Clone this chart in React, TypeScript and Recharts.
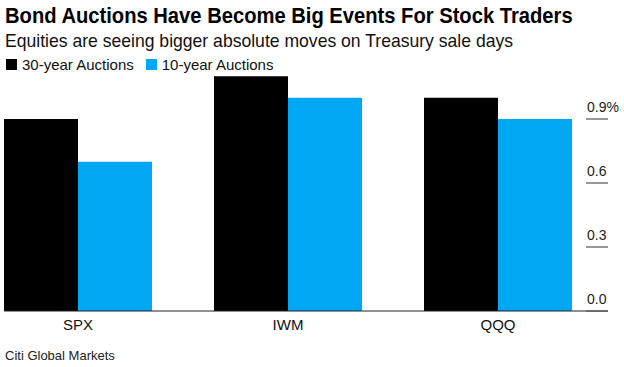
import { BarChart, Bar, XAxis, YAxis, Legend } from 'recharts';

// values (percent moves)
const categories = ['SPX', 'IWM', 'QQQ'];
const thirtyYear = [0.9, 1.1, 1.0];
const tenYear = [0.7, 1.0, 0.9];
const yTicks = [0, 0.3, 0.6, 0.9];

const seriesConfig = [
    { key: 'thirty', label: '30-year Auctions', color: '#000000' },
    { key: 'ten', label: '10-year Auctions', color: '#00a8f3' },
];

const FONT = '"Liberation Sans", Arial, sans-serif';

const data = categories.map((name, i) => ({ name, thirty: thirtyYear[i], ten: tenYear[i] }));

const renderRightTick = (props: any) => {
    const { x, y, payload } = props;
    const label = payload.value === 0.9 ? '0.9%' : payload.value.toFixed(1);
    return (
        <g key={'t' + payload.value}>
            <line x1={x - 22} x2={x} y1={y} y2={y} stroke="#555" strokeWidth={1.2} />
            <text x={x - 21} y={y - 7} fontSize={14} fill="#222" fontFamily={FONT} textAnchor="start">
                {label}
            </text>
        </g>
    );
};

const LegendContent = () => (
    <div style={{ display: 'flex', alignItems: 'center', fontFamily: FONT, fontSize: 15, color: '#111' }}>
        {seriesConfig.map((item) => (
            <div key={item.key} style={{ display: 'flex', alignItems: 'center', marginRight: 12 }}>
                <span style={{ width: 11, height: 11, background: item.color, display: 'inline-block', marginRight: 5 }} />
                {item.label}
            </div>
        ))}
    </div>
);

export default function App() {
    return (
        <div style={{ position: 'absolute', top: 0, left: 0, width: 624, height: 367, background: '#fff', fontFamily: FONT }}>
            <div style={{ position: 'absolute', top: 3, left: 5, fontSize: 22, fontWeight: 'bold', color: '#000', whiteSpace: 'nowrap', transform: 'scaleX(0.917)', transformOrigin: 'left' }}>
                Bond Auctions Have Become Big Events For Stock Traders
            </div>
            <div style={{ position: 'absolute', top: 30, left: 5, fontSize: 19, color: '#111', whiteSpace: 'nowrap', transform: 'scaleX(0.925)', transformOrigin: 'left' }}>
                Equities are seeing bigger absolute moves on Treasury sale days
            </div>
            <BarChart
                width={624}
                height={367}
                data={data}
                margin={{ top: 55, right: 15, left: 4, bottom: 26 }}
                barCategoryGap={31}
                barGap={0}
            >
                <XAxis
                    dataKey="name"
                    padding={{ left: -31, right: 5 }}
                    axisLine={{ stroke: '#222', strokeWidth: 1 }}
                    tickLine={false}
                    height={30}
                    tick={{ fontSize: 15, fill: '#111', fontFamily: FONT }}
                />
                <YAxis
                    orientation="right"
                    width={1}
                    domain={[0, 1.2]}
                    ticks={yTicks}
                    interval={0}
                    axisLine={false}
                    tickLine={false}
                    tickSize={0}
                    tickMargin={0}
                    tick={renderRightTick}
                />
                <Legend
                    verticalAlign="middle"
                    align="center"
                    content={<LegendContent />}
                    wrapperStyle={{ top: 56, left: 6, width: 400 }}
                />
                {seriesConfig.map((item) => (
                    <Bar
                        key={item.key}
                        dataKey={item.key}
                        name={item.label}
                        fill={item.color}
                        isAnimationActive={false}
                    />
                ))}
            </BarChart>
            <div style={{ position: 'absolute', top: 348, left: 5, fontSize: 13, color: '#222', whiteSpace: 'nowrap' }}>
                Citi Global Markets
            </div>
        </div>
    );
}
